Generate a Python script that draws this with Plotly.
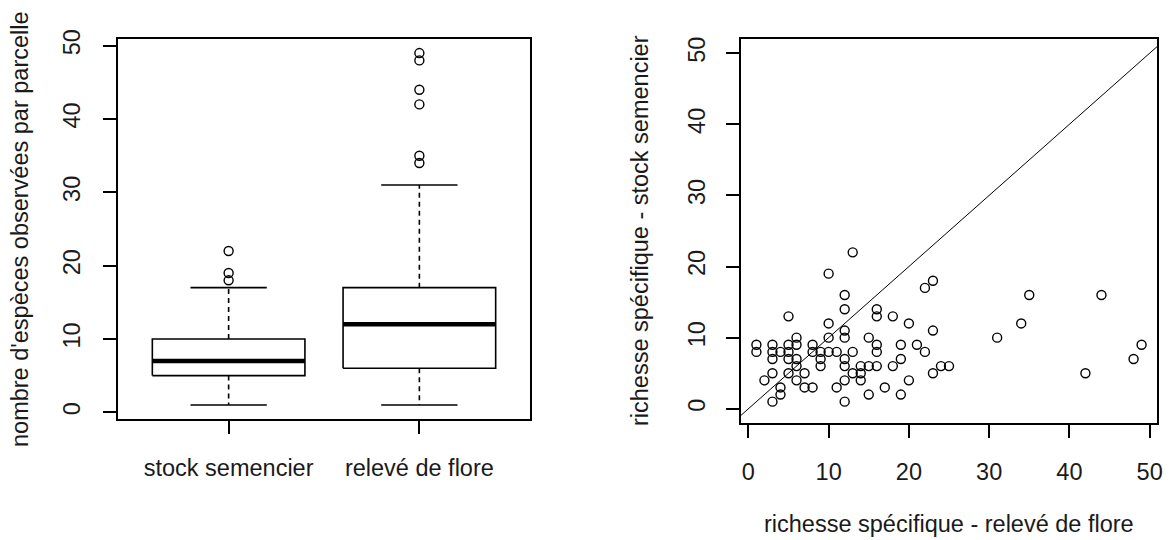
import plotly.graph_objects as go

# ---- data ----
groups = ["stock semencier", "relevé de flore"]
box_low = [1, 1]          # lower whisker
box_q1 = [5, 6]
box_med = [7, 12]
box_q3 = [10, 17]
box_high = [17, 31]       # upper whisker
out_stock = [18, 19, 22]
out_releve = [34, 35, 42, 44, 48, 49]

releve = [1, 1, 2, 3, 3, 3, 3, 3, 4, 4, 4, 5, 5, 5, 5, 5, 6, 6, 6, 6, 6,
          7, 7, 8, 8, 8, 9, 9, 9, 10, 10, 10, 10, 11, 11,
          12, 12, 12, 12, 12, 12, 12, 12, 13, 13, 13, 14, 14, 14,
          15, 15, 15, 16, 16, 16, 16, 16, 17, 18, 18, 19, 19, 19,
          20, 20, 21, 22, 22, 23, 23, 23, 24, 25,
          31, 34, 35, 42, 44, 48, 49]
stock = [9, 8, 4, 9, 8, 7, 5, 1, 8, 3, 2, 13, 9, 8, 7, 5, 10, 9, 7, 6, 4,
         5, 3, 9, 8, 3, 8, 7, 6, 19, 12, 10, 8, 8, 3,
         16, 14, 11, 10, 7, 6, 4, 1, 22, 8, 5, 6, 5, 4,
         10, 6, 2, 14, 13, 9, 8, 6, 3, 13, 6, 9, 7, 2,
         12, 4, 9, 17, 8, 18, 11, 5, 6, 6,
         10, 12, 16, 5, 16, 7, 9]

W, H = 1169, 540
FONT = "Liberation Sans, Arial, sans-serif"
TXT = "#1a1a1a"
FS = 23.5
LW = 1.6

fig = go.Figure()

# ---- left: boxplots drawn from the stats ----
for i, g in enumerate(groups):
    c = i + 1
    hw, cw = 0.4, 0.2
    fig.add_trace(go.Scatter(x=[c, c, None, c, c],
                             y=[box_q3[i], box_high[i], None, box_q1[i], box_low[i]],
                             mode="lines", line=dict(color="black", width=LW, dash="5px,4px"),
                             xaxis="x", yaxis="y", showlegend=False, hoverinfo="skip"))
    fig.add_trace(go.Scatter(x=[c - cw, c + cw, None, c - cw, c + cw],
                             y=[box_high[i], box_high[i], None, box_low[i], box_low[i]],
                             mode="lines", line=dict(color="black", width=LW),
                             xaxis="x", yaxis="y", showlegend=False, hoverinfo="skip"))
    fig.add_trace(go.Scatter(x=[c - hw, c + hw, c + hw, c - hw, c - hw],
                             y=[box_q1[i], box_q1[i], box_q3[i], box_q3[i], box_q1[i]],
                             mode="lines", line=dict(color="black", width=LW),
                             xaxis="x", yaxis="y", showlegend=False, hoverinfo="skip"))
    fig.add_trace(go.Scatter(x=[c - hw, c + hw], y=[box_med[i], box_med[i]],
                             mode="lines", line=dict(color="black", width=4.5),
                             xaxis="x", yaxis="y", showlegend=False, hoverinfo="skip"))

outs = [out_stock, out_releve]
for i, o in enumerate(outs):
    fig.add_trace(go.Scatter(x=[i + 1] * len(o), y=o, mode="markers",
                             marker=dict(symbol="circle-open", size=9, color="black",
                                         line=dict(width=1.4, color="black")),
                             xaxis="x", yaxis="y", showlegend=False))

# ---- right: scatter ----
fig.add_trace(go.Scatter(x=releve, y=stock, mode="markers",
                         marker=dict(symbol="circle-open", size=9, color="black",
                                     line=dict(width=1.4, color="black")),
                         xaxis="x2", yaxis="y2", showlegend=False))
# abline(0, 1)
fig.add_trace(go.Scatter(x=[-5, 60], y=[-5, 60], mode="lines",
                         line=dict(color="black", width=1),
                         xaxis="x2", yaxis="y2", showlegend=False, hoverinfo="skip"))

def px_x(p):
    return p / W

def px_y(p):
    return 1 - p / H

axcommon = dict(showline=True, linecolor="black", linewidth=1.5, mirror=True,
                ticks="outside", ticklen=13, tickwidth=1.5, tickcolor="black",
                showgrid=False, zeroline=False, automargin=False,
                tickfont=dict(family=FONT, size=FS, color=TXT))

fig.update_layout(
    width=W, height=H,
    margin=dict(l=0, r=0, t=0, b=0, pad=0),
    paper_bgcolor="white", plot_bgcolor="white",
    xaxis=dict(domain=[px_x(118), px_x(530)], range=[0.42, 2.58],
               tickvals=[1, 2], ticktext=groups, anchor="y",
               ticklabelstandoff=14, **axcommon),
    yaxis=dict(domain=[px_y(419), px_y(39)], range=[-0.92, 50.92],
               tickvals=[0, 10, 20, 30, 40, 50], tickangle=-90, anchor="x",
               ticklabelstandoff=14, **axcommon),
    xaxis2=dict(domain=[px_x(741), px_x(1157)], range=[-0.92, 50.92],
                tickvals=[0, 10, 20, 30, 40, 50], anchor="y2",
                ticklabelstandoff=14, **axcommon),
    yaxis2=dict(domain=[px_y(423), px_y(39)], range=[-2, 52],
                tickvals=[0, 10, 20, 30, 40, 50], tickangle=-90, anchor="x2",
                ticklabelstandoff=12, **axcommon),
    annotations=[
        dict(text="nombre d'espèces observées par parcelle", textangle=-90,
             x=px_x(20), y=px_y(229), xref="paper", yref="paper",
             xanchor="center", yanchor="middle", showarrow=False,
             font=dict(family=FONT, size=FS, color=TXT)),
        dict(text="richesse spécifique - stock semencier", textangle=-90,
             x=px_x(640), y=px_y(231), xref="paper", yref="paper",
             xanchor="center", yanchor="middle", showarrow=False,
             font=dict(family=FONT, size=FS, color=TXT)),
        dict(text="richesse spécifique - relevé de flore",
             x=px_x(949), y=px_y(524), xref="paper", yref="paper",
             xanchor="center", yanchor="middle", showarrow=False,
             font=dict(family=FONT, size=FS, color=TXT)),
    ],
)

fig.write_html("out.html", config={"displayModeBar": False},
               post_script="document.body.style.margin='0';")
